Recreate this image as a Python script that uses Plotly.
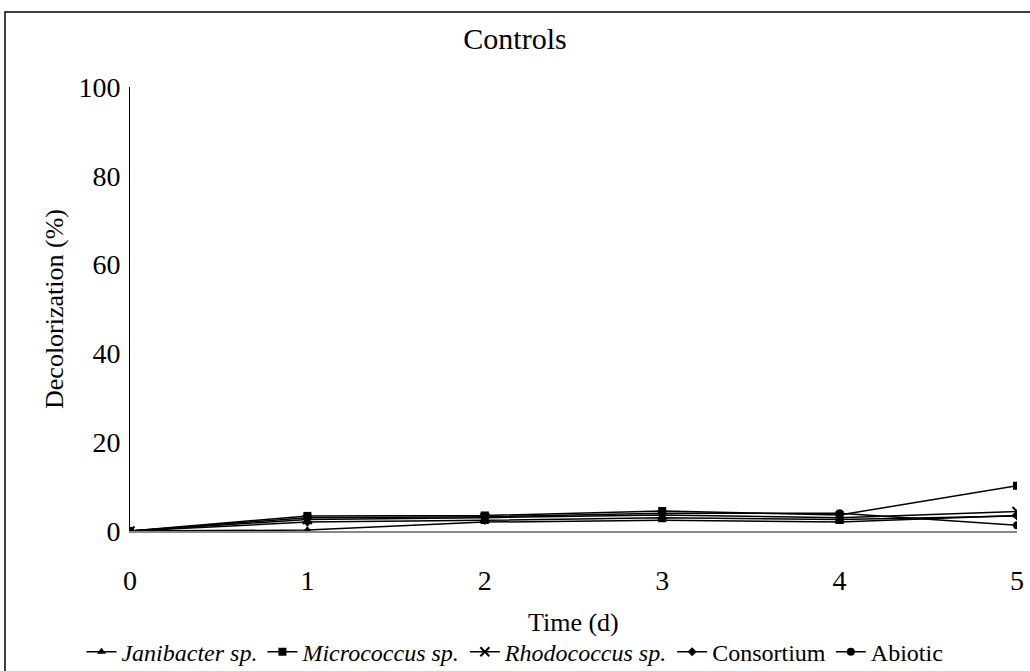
import plotly.graph_objects as go

days = [0, 1, 2, 3, 4, 5]
janibacter = [0, 0.2, 2.0, 2.4, 2.0, 3.5]
micrococcus = [0, 3.4, 3.5, 4.5, 3.6, 10.2]
rhodococcus = [0, 2.6, 3.0, 3.6, 3.0, 4.4]
consortium = [0, 2.0, 2.4, 3.0, 2.6, 3.4]
abiotic = [0, 3.0, 3.2, 4.0, 4.0, 1.3]

names = ["<i>Janibacter sp.</i>", "<i>Micrococcus sp.</i>", "<i>Rhodococcus sp.</i>", "Consortium", "Abiotic"]
series = [janibacter, micrococcus, rhodococcus, consortium, abiotic]
symbols = ["triangle-up", "square", "x-thin", "diamond", "circle"]
sizes = [8, 8, 9, 7, 8]

fig = go.Figure()
for n, s, sym, sz in zip(names, series, symbols, sizes):
    fig.add_trace(go.Scatter(
        x=days, y=s, name=n, mode="lines+markers",
        line=dict(color="black", width=1.5),
        marker=dict(symbol=sym, size=sz, color="black",
                    line=dict(color="black", width=2 if sym == "x-thin" else 0)),
    ))

font = "Liberation Serif, Times New Roman, serif"
fig.update_layout(
    width=1030, height=671,
    paper_bgcolor="white", plot_bgcolor="white",
    margin=dict(l=130, r=13, t=87, b=140),
    title=dict(text="Controls", x=0.5, xanchor="center", y=0.943, yanchor="middle",
               font=dict(family=font, size=30, color="black")),
    font=dict(family=font, size=26, color="black"),
    showlegend=True,
    legend=dict(orientation="h", x=0.434, xanchor="center", yref="container", y=0.028,
                yanchor="middle", font=dict(family=font, size=24, color="black"),
                itemwidth=30, tracegroupgap=0, bgcolor="rgba(0,0,0,0)"),
    xaxis=dict(range=[0, 5], tickvals=days, showgrid=False, zeroline=False, automargin=False,
               showline=True, linecolor="#888888", linewidth=1.5, ticks="",
               tickfont=dict(family=font, size=28)),
    yaxis=dict(range=[0, 100], tickvals=[0, 20, 40, 60, 80, 100], showgrid=False, automargin=False,
               zeroline=False, showline=True, linecolor="black", linewidth=1, ticks="",
               title=dict(text="Decolorization (%)", font=dict(family=font, size=26), standoff=7),
               tickfont=dict(family=font, size=28)),
)
fig.update_xaxes(ticklabelstandoff=24)
fig.update_yaxes(ticklabelstandoff=3)

# x-axis title
fig.add_annotation(text="Time (d)", xref="paper", yref="paper", x=0.5, y=(531 - 622) / 444,
                   xanchor="center", yanchor="middle", showarrow=False,
                   font=dict(family=font, size=26, color="black"))

# outer chart border (as in the reference image)
fig.add_shape(type="rect", xref="paper", yref="paper",
              x0=(5 - 130) / 887, x1=1.05, y0=-0.4, y1=(531 - 12) / 444,
              line=dict(color="black", width=1.5), fillcolor="rgba(0,0,0,0)", layer="below")

fig.write_html("out.html", config={"displayModeBar": False},
               post_script="document.body.style.margin='0';document.body.style.overflow='hidden';")
